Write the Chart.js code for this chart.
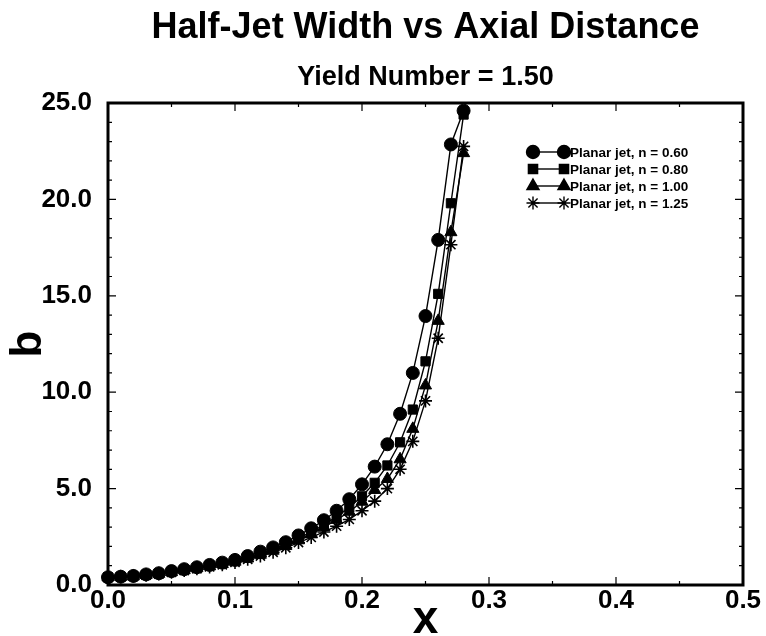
<!DOCTYPE html>
<html>
<head>
<meta charset="utf-8">
<script src="https://cdn.jsdelivr.net/npm/chart.js@4.4.1/dist/chart.umd.min.js"></script>
<style>
  html, body { margin: 0; padding: 0; background: #fff; }
  #wrap { width: 766px; height: 636px; }
</style>
</head>
<body>
<div id="wrap"><canvas id="jetChart" width="766" height="636"></canvas></div>
<script>
// axial distance (x) samples
const xValues = [0.00, 0.01, 0.02, 0.03, 0.04, 0.05, 0.06, 0.07, 0.08, 0.09,
                 0.10, 0.11, 0.12, 0.13, 0.14, 0.15, 0.16, 0.17, 0.18, 0.19,
                 0.20, 0.21, 0.22, 0.23, 0.24, 0.25, 0.26, 0.27, 0.28];

// half-jet width b
const bN060 = [0.40, 0.43, 0.47, 0.55, 0.61, 0.72, 0.82, 0.92, 1.04, 1.16,
               1.30, 1.50, 1.73, 1.95, 2.22, 2.57, 2.94, 3.36, 3.85, 4.45,
               5.22, 6.14, 7.30, 8.88, 11.00, 13.95, 17.90, 22.85, 24.60];
const bN080 = [0.40, 0.42, 0.46, 0.53, 0.59, 0.69, 0.79, 0.89, 1.00, 1.12,
               1.25, 1.42, 1.62, 1.85, 2.10, 2.42, 2.75, 3.12, 3.55, 4.02,
               4.60, 5.30, 6.20, 7.40, 9.10, 11.60, 15.10, 19.80, 24.40];
const bN100 = [0.40, 0.42, 0.45, 0.52, 0.58, 0.67, 0.77, 0.87, 0.97, 1.09,
               1.21, 1.38, 1.57, 1.78, 2.02, 2.32, 2.64, 3.00, 3.38, 3.80,
               4.32, 4.93, 5.50, 6.52, 8.10, 10.35, 13.70, 18.30, 22.40];
const bN125 = [0.40, 0.42, 0.45, 0.51, 0.57, 0.66, 0.75, 0.84, 0.94, 1.05,
               1.17, 1.33, 1.50, 1.70, 1.93, 2.20, 2.47, 2.75, 3.05, 3.40,
               3.85, 4.35, 5.00, 6.00, 7.45, 9.55, 12.80, 17.65, 22.75];

const seriesNames = ['Planar jet, n = 0.60', 'Planar jet, n = 0.80', 'Planar jet, n = 1.00', 'Planar jet, n = 1.25'];
const seriesValues = [bN060, bN080, bN100, bN125];
const seriesMarkers = ['circle', 'rect', 'triangle', 'star'];

const xTicks = [0.0, 0.1, 0.2, 0.3, 0.4, 0.5];
const yTicks = [0.0, 5.0, 10.0, 15.0, 20.0, 25.0];

const titleText = 'Half-Jet Width vs Axial Distance';
const subtitleText = 'Yield Number = 1.50';

const FONT = '"Liberation Sans", Arial, Helvetica, sans-serif';
const INK = '#000';

function markerRadius(style) {
    if (style === 'triangle') return 7;
    return 6.5;
}

const datasets = seriesValues.map((vals, i) => ({
    label: seriesNames[i],
    data: xValues.map((x, k) => ({ x: x, y: vals[k] })),
    borderColor: INK,
    backgroundColor: INK,
    borderWidth: 1.4,
    pointStyle: seriesMarkers[i],
    pointRadius: markerRadius(seriesMarkers[i]),
    pointBackgroundColor: INK,
    pointBorderColor: INK,
    pointBorderWidth: seriesMarkers[i] === 'star' ? 1.6 : 1,
    tension: 0,
    clip: false
}));

// titles, frame with inward ticks, legend
const decorPlugin = {
    id: 'decor',
    afterDraw(chart) {
        const ctx = chart.ctx;
        const a = chart.chartArea;
        const xs = chart.scales.x, ys = chart.scales.y;
        const cx = (a.left + a.right) / 2;
        ctx.save();

        // titles
        ctx.fillStyle = INK;
        ctx.textAlign = 'center';
        ctx.textBaseline = 'alphabetic';
        ctx.font = 'bold 36px ' + FONT;
        ctx.fillText(titleText, cx, 38);
        ctx.font = 'bold 27px ' + FONT;
        ctx.fillText(subtitleText, cx, 85);

        // frame
        ctx.strokeStyle = INK;
        ctx.lineWidth = 3;
        ctx.strokeRect(a.left, a.top, a.right - a.left, a.bottom - a.top);

        // ticks (inward), major + minor
        ctx.lineWidth = 1.2;
        ctx.beginPath();
        for (let v = 0; v <= 25.0001; v += 1) {
            const py = ys.getPixelForValue(v);
            const len = Math.abs(v % 5) < 1e-6 ? 8 : 4;
            ctx.moveTo(a.left, py); ctx.lineTo(a.left + len, py);
            ctx.moveTo(a.right, py); ctx.lineTo(a.right - len, py);
        }
        for (let k = 0; k <= 10; k++) {
            const px = xs.getPixelForValue(k * 0.05);
            const len = k % 2 === 0 ? 8 : 4;
            ctx.moveTo(px, a.bottom); ctx.lineTo(px, a.bottom - len);
            ctx.moveTo(px, a.top); ctx.lineTo(px, a.top + len);
        }
        ctx.stroke();

        // legend
        const lx1 = 533, lx2 = 564, ly0 = 152, dy = 17;
        ctx.font = 'bold 13.5px ' + FONT;
        ctx.textAlign = 'left';
        ctx.textBaseline = 'middle';
        seriesNames.forEach((name, i) => {
            const y = ly0 + i * dy;
            ctx.lineWidth = 1.4;
            ctx.beginPath();
            ctx.moveTo(lx1, y); ctx.lineTo(lx2, y);
            ctx.stroke();
            const opts = {
                pointStyle: seriesMarkers[i],
                radius: markerRadius(seriesMarkers[i]),
                rotation: 0,
                borderWidth: seriesMarkers[i] === 'star' ? 1.6 : 1
            };
            ctx.fillStyle = INK;
            ctx.strokeStyle = INK;
            Chart.helpers.drawPoint(ctx, opts, lx1, y);
            Chart.helpers.drawPoint(ctx, opts, lx2, y);
            ctx.fillStyle = INK;
            ctx.fillText(name, lx2 + 6, y + 1);
        });
        ctx.restore();
    }
};

new Chart(document.getElementById('jetChart'), {
    type: 'line',
    data: { datasets: datasets },
    options: {
        responsive: false,
        animation: false,
        devicePixelRatio: 1,
        layout: { padding: { top: 103, right: 23, left: 0, bottom: 0 } },
        plugins: { legend: { display: false }, tooltip: { enabled: false }, title: { display: false } },
        scales: {
            x: {
                type: 'linear',
                min: 0, max: 0.5,
                afterFit: s => { s.height = 51; },
                afterBuildTicks: s => { s.ticks = xTicks.map(v => ({ value: v })); },
                grid: { display: false, drawTicks: false },
                border: { display: false },
                ticks: {
                    color: INK, padding: 0, maxRotation: 0, autoSkip: false,
                    font: { family: FONT, size: 26, weight: 'bold' },
                    callback: v => v.toFixed(1)
                },
                title: {
                    display: true, text: 'x', color: INK,
                    font: { family: FONT, size: 46, weight: 'bold', lineHeight: 0.67 },
                    padding: { top: 0, bottom: 0 }
                }
            },
            y: {
                type: 'linear',
                min: 0, max: 25,
                afterFit: s => { s.width = 108; },
                afterBuildTicks: s => { s.ticks = yTicks.map(v => ({ value: v })); },
                grid: { display: false, drawTicks: false },
                border: { display: false },
                ticks: {
                    color: INK, padding: 16, autoSkip: false,
                    font: { family: FONT, size: 26, weight: 'bold' },
                    callback: v => v.toFixed(1)
                },
                title: {
                    display: true, text: 'b', color: INK,
                    font: { family: FONT, size: 44, weight: 'bold', lineHeight: 1.2 },
                    padding: { top: 2, bottom: 0 }
                }
            }
        }
    },
    plugins: [decorPlugin]
});
</script>
</body>
</html>
